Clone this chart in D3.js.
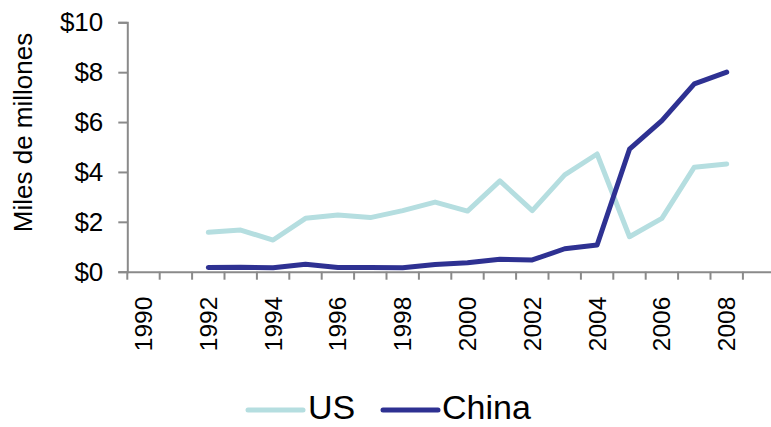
<!DOCTYPE html>
<html>
<head>
<meta charset="utf-8">
<script src="https://cdn.jsdelivr.net/npm/d3@7"></script>
<style>
  html, body { margin: 0; padding: 0; background: #fff; }
  svg { display: block; font-family: Arial, "Liberation Sans", sans-serif; }
</style>
</head>
<body>
<svg id="chart" width="771" height="427"></svg>
<script>
const categories = ["1990","1991","1992","1993","1994","1995","1996","1997","1998","1999","2000","2001","2002","2003","2004","2005","2006","2007","2008","2009"];
const tickLabels = ["1990","1992","1994","1996","1998","2000","2002","2004","2006","2008"];
const years = ["1992","1993","1994","1995","1996","1997","1998","1999","2000","2001","2002","2003","2004","2005","2006","2007","2008"];
const usValues = [1.58,1.67,1.27,2.14,2.27,2.17,2.45,2.79,2.43,3.64,2.45,3.88,4.72,1.40,2.14,4.19,4.32];
const chinaValues = [0.17,0.18,0.16,0.30,0.17,0.17,0.16,0.29,0.36,0.50,0.47,0.92,1.07,4.91,6.06,7.53,8.00];
const yTicks = [0,2,4,6,8,10];
const seriesNames = ["US","China"];
const colors = ["#b5dee0","#2e3192"];

const svg = d3.select("#chart");
const axisColor = "#8a8a8a";

const x = d3.scaleBand().domain(categories).range([127.3, 775.3]).padding(0);
const y = d3.scaleLinear().domain([0, 10]).range([271.7, 22.3]);

// Y axis
const yAxis = d3.axisLeft(y).tickValues(yTicks).tickSize(9).tickPadding(15)
  .tickFormat(d => "$" + d);
const gy = svg.append("g").attr("transform", "translate(127.3,0)").call(yAxis);
gy.select(".domain").attr("stroke", axisColor).attr("stroke-width", 2);
gy.selectAll(".tick line").attr("stroke", axisColor).attr("stroke-width", 2);
gy.selectAll(".tick text").attr("font-size", 26).attr("fill", "#000")
  .attr("font-family", "Arial, 'Liberation Sans', sans-serif");

// X axis
const xAxis = d3.axisBottom(x).tickSize(0).tickValues(tickLabels);
const gx = svg.append("g").attr("transform", "translate(0,271.7)").call(xAxis);
gx.select(".domain").attr("stroke", axisColor).attr("stroke-width", 2);
gx.selectAll(".tick line").remove();
gx.selectAll(".tick text")
  .attr("font-size", 24.5).attr("fill", "#000")
  .attr("font-family", "Arial, 'Liberation Sans', sans-serif")
  .attr("transform", "rotate(-90)")
  .attr("x", -25).attr("y", 0).attr("dy", "0.35em")
  .attr("text-anchor", "end");
// category boundary ticks
gx.selectAll(".bound").data(categories).enter().append("line")
  .attr("class", "bound")
  .attr("x1", d => x(d)).attr("x2", d => x(d))
  .attr("y1", 0).attr("y2", 8)
  .attr("stroke", axisColor).attr("stroke-width", 2);

// Y title
svg.append("text")
  .attr("transform", "translate(32,132.5) rotate(-90)")
  .attr("text-anchor", "middle")
  .attr("font-size", 26)
  .attr("fill", "#000")
  .text("Miles de millones");

// Lines
const line = d3.line()
  .x((d, i) => x(years[i]) + x.bandwidth() / 2)
  .y(d => y(d));

[usValues, chinaValues].forEach((vals, k) => {
  svg.append("path")
    .datum(vals)
    .attr("d", line)
    .attr("fill", "none")
    .attr("stroke", colors[k])
    .attr("stroke-width", 5)
    .attr("stroke-linejoin", "round")
    .attr("stroke-linecap", "round");
});

// Legend
const legendItems = [
  { name: seriesNames[0], color: colors[0], x1: 248, x2: 303, tx: 308 },
  { name: seriesNames[1], color: colors[1], x1: 383, x2: 438, tx: 442 }
];
legendItems.forEach(it => {
  svg.append("line")
    .attr("x1", it.x1).attr("x2", it.x2)
    .attr("y1", 410).attr("y2", 410)
    .attr("stroke", it.color).attr("stroke-width", 5)
    .attr("stroke-linecap", "round");
  svg.append("text")
    .attr("x", it.tx).attr("y", 419)
    .attr("font-size", 34).attr("fill", "#000")
    .text(it.name);
});
</script>
</body>
</html>
